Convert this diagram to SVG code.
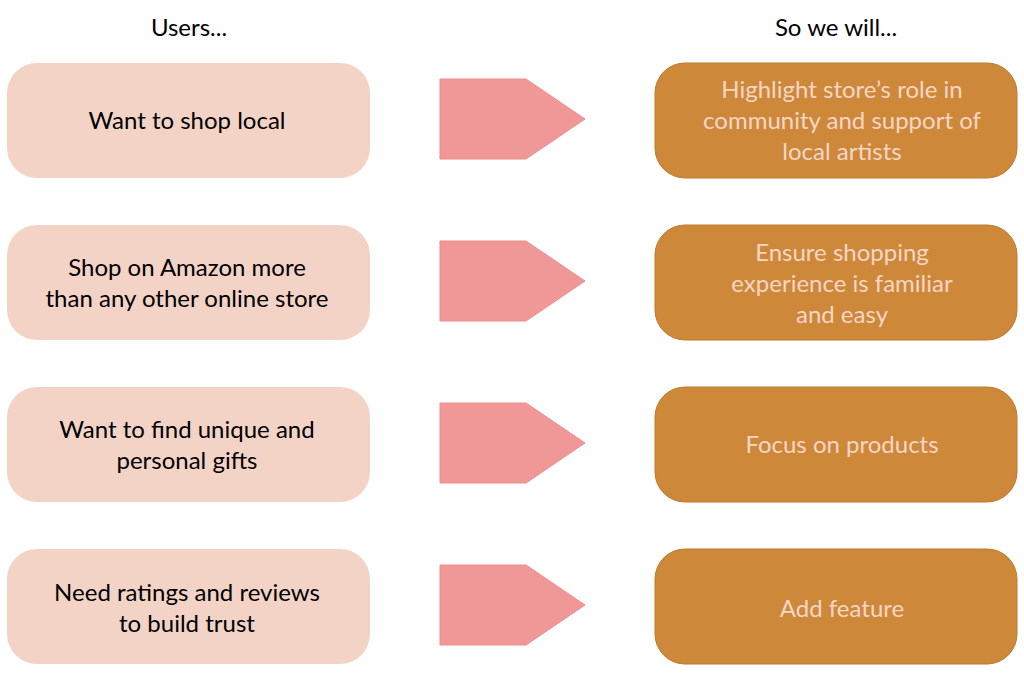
<svg xmlns="http://www.w3.org/2000/svg" width="1024" height="689" viewBox="0 0 1024 689">
<style>
.t{font-family:Lato,"Liberation Sans",sans-serif;font-size:24px;text-anchor:middle}
.hd{fill:#000}
.l rect{fill:#F4D3C7}
.l text{fill:#000}
.r rect{fill:#CE883A;stroke:#BF7A2C;stroke-width:1}
.r text{fill:#F7D6C6}
.arr{fill:#F09898;stroke:#EE8C8C;stroke-width:1}
</style>
<rect width="1024" height="689" fill="#fff"/>
<g id="header-users"><text class="t hd" x="189" y="36">Users...</text></g>
<g id="header-sowewill"><text class="t hd" x="836" y="36">So we will...</text></g>

<g id="u1" class="l"><rect x="7" y="63" width="363" height="115" rx="30"/><text class="t" x="187" y="129">Want to shop local</text></g>
<g id="u2" class="l"><rect x="7" y="225" width="363" height="115" rx="30"/><text class="t" x="187" y="276">Shop on Amazon more</text><text class="t" x="187" y="307">than any other online store</text></g>
<g id="u3" class="l"><rect x="7" y="387" width="363" height="115" rx="30"/><text class="t" x="187" y="438">Want to find unique and</text><text class="t" x="187" y="469">personal gifts</text></g>
<g id="u4" class="l"><rect x="7" y="549" width="363" height="115" rx="30"/><text class="t" x="187" y="601">Need ratings and reviews</text><text class="t" x="187" y="632">to build trust</text></g>

<g id="connectors">
<polygon class="arr" points="440,79 526,79 585,119 526,159 440,159"/>
<polygon class="arr" points="440,241 526,241 585,281 526,321 440,321"/>
<polygon class="arr" points="440,403 526,403 585,443 526,483 440,483"/>
<polygon class="arr" points="440,565 526,565 585,605 526,645 440,645"/>
</g>

<g id="w1" class="r"><rect x="655" y="63" width="362" height="115" rx="30"/><text class="t" x="842" y="98">Highlight store’s role in</text><text class="t" x="842" y="129">community and support of</text><text class="t" x="842" y="160">local artists</text></g>
<g id="w2" class="r"><rect x="655" y="225" width="362" height="115" rx="30"/><text class="t" x="842" y="261">Ensure shopping</text><text class="t" x="842" y="292">experience is familiar</text><text class="t" x="842" y="323">and easy</text></g>
<g id="w3" class="r"><rect x="655" y="387" width="362" height="115" rx="30"/><text class="t" x="842" y="453">Focus on products</text></g>
<g id="w4" class="r"><rect x="655" y="549" width="362" height="115" rx="30"/><text class="t" x="842" y="617">Add feature</text></g>
</svg>
